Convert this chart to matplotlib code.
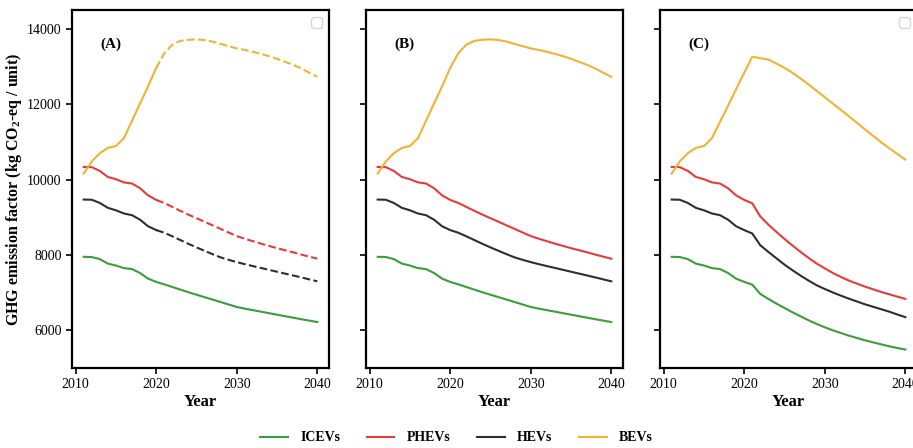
import matplotlib
matplotlib.use('Agg')
import matplotlib.pyplot as plt
from matplotlib.lines import Line2D

plt.rcParams['font.family'] = ['Liberation Serif', 'DejaVu Serif']
plt.rcParams['mathtext.fontset'] = 'custom'
plt.rcParams['mathtext.rm'] = 'Liberation Serif'
plt.rcParams['mathtext.bf'] = 'Liberation Serif:bold'

# Years and emission factors (kg CO2-eq / unit)
years = list(range(2011, 2041))

# Scenarios A and B share the same values
ice_ab = [7950, 7945, 7890, 7770, 7720, 7650, 7625, 7520, 7370, 7285,
          7220, 7150, 7080, 7010, 6945, 6880, 6815, 6750, 6685, 6620,
          6575, 6535, 6495, 6455, 6415, 6375, 6335, 6295, 6258, 6220]
phev_ab = [10335, 10330, 10230, 10070, 10010, 9925, 9895, 9770, 9580, 9460,
           9380, 9275, 9170, 9070, 8975, 8880, 8785, 8690, 8595, 8500,
           8430, 8365, 8300, 8240, 8180, 8125, 8070, 8010, 7955, 7900]
hev_ab = [9470, 9465, 9380, 9250, 9185, 9100, 9055, 8935, 8760, 8660,
          8590, 8495, 8395, 8295, 8200, 8110, 8020, 7935, 7870, 7810,
          7755, 7705, 7655, 7605, 7555, 7505, 7455, 7405, 7352, 7300]
bev_ab = [10160, 10480, 10700, 10840, 10890, 11100, 11560, 12020, 12480, 12960,
          13350, 13580, 13680, 13710, 13720, 13705, 13660, 13600, 13540, 13480,
          13440, 13390, 13335, 13275, 13205, 13125, 13045, 12950, 12835, 12725]

# Scenario C
ice_c = [7950, 7945, 7890, 7770, 7720, 7650, 7625, 7520, 7370, 7285,
         7212, 6965, 6832, 6708, 6593, 6478, 6372, 6265, 6168, 6080,
         6000, 5929, 5858, 5796, 5735, 5681, 5628, 5575, 5531, 5490]
phev_c = [10335, 10330, 10230, 10070, 10010, 9925, 9895, 9770, 9580, 9460,
          9370, 9020, 8805, 8611, 8425, 8248, 8080, 7920, 7770, 7646,
          7522, 7416, 7319, 7239, 7159, 7088, 7018, 6956, 6894, 6834]
hev_c = [9470, 9465, 9380, 9250, 9185, 9100, 9055, 8935, 8760, 8660,
         8570, 8257, 8080, 7912, 7743, 7593, 7451, 7319, 7195, 7097,
         7005, 6920, 6840, 6765, 6690, 6625, 6560, 6495, 6420, 6350]
bev_c = [10160, 10480, 10700, 10840, 10890, 11100, 11530, 11960, 12400, 12830,
         13260, 13220, 13185, 13080, 12965, 12832, 12681, 12522, 12354, 12186,
         12018, 11850, 11680, 11505, 11330, 11160, 10990, 10830, 10680, 10530]

names = ['ICEVs', 'PHEVs', 'HEVs', 'BEVs']
colors = ['#3a9e3a', '#e63b3b', '#2e2e2e', '#f2b233']
dashed_A = [False, True, True, True]  # ICEVs stay solid in panel A
split = 2020  # projections drawn dashed in panel A from here

fig = plt.figure(figsize=(9.13, 4.48), dpi=100)
w, h = 257 / 913, 358 / 448
bottom = 1 - 368 / 448
axA = fig.add_axes([72 / 913, bottom, w, h])
axB = fig.add_axes([366 / 913, bottom, w, h], sharey=axA)
axC = fig.add_axes([660 / 913, bottom, w, h], sharey=axA)

i = years.index(split)
for series, c, dash in zip([ice_ab, phev_ab, hev_ab, bev_ab], colors, dashed_A):
    if dash:
        axA.plot(years[:i + 1], series[:i + 1], color=c, lw=1.5)
        axA.plot(years[i:], series[i:], color=c, lw=1.5, ls='--')
    else:
        axA.plot(years, series, color=c, lw=1.5)
    axB.plot(years, series, color=c, lw=1.5)
for series, c in zip([ice_c, phev_c, hev_c, bev_c], colors):
    axC.plot(years, series, color=c, lw=1.5)

for ax, lab in zip([axA, axB, axC], ['(A)', '(B)', '(C)']):
    ax.set_ylim(5000, 14500)
    ax.set_xticks([2010, 2020, 2030, 2040])
    ax.set_xlabel('Year', fontsize=12, fontweight='bold', labelpad=2)
    ax.text(0.11, 0.895, lab, transform=ax.transAxes, fontsize=11,
            fontweight='bold')
    ax.tick_params(labelsize=10, width=1.2, length=4)
    for s in ax.spines.values():
        s.set_linewidth(1.6)
axA.set_yticks([6000, 8000, 10000, 12000, 14000])
axB.tick_params(labelleft=False)
axC.tick_params(labelleft=False)
axA.set_ylabel(r'GHG emission factor (kg CO$_\mathbf{2}$-eq / unit)',
               fontsize=11.5, fontweight='bold')
axA.yaxis.set_label_coords(-0.185, 0.5)

# empty legend boxes as in the original
axA.legend(handles=[], loc='upper right')
axC.legend(handles=[], loc='upper right')

handles = [Line2D([], [], color=c, lw=1.5) for c in colors]
fig.legend(handles, names, loc='lower center', ncol=4, frameon=False,
           bbox_to_anchor=(0.5, -0.02), prop={'weight': 'bold', 'size': 10},
           columnspacing=1.9, handlelength=2.0, handletextpad=0.9)

fig.savefig('out.png', dpi=100)
